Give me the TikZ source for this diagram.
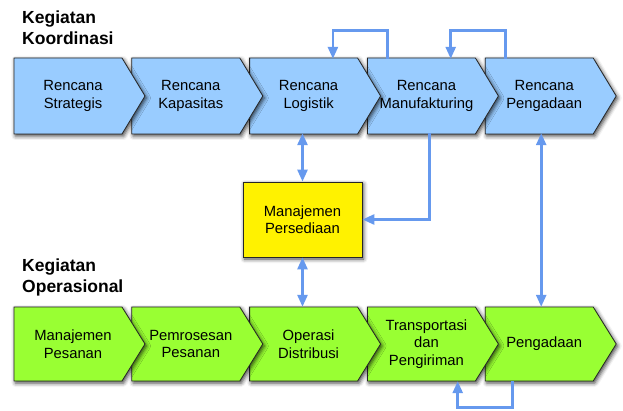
\documentclass[tikz,border=0pt]{standalone}
\usepackage{fontspec}
\setmainfont{Liberation Sans}
\usetikzlibrary{arrows.meta,shadows.blur}

\definecolor{planblue}{RGB}{153,204,255}
\definecolor{opgreen}{RGB}{153,255,51}
\definecolor{linkblue}{RGB}{102,153,238}

\tikzset{
  chev/.style={draw=black!85, line width=0.8pt,
    blur shadow={shadow xshift=1.5pt, shadow yshift=-2pt, shadow blur radius=4pt, shadow opacity=75}},
  boxtext/.style={inner sep=0pt, minimum width=119pt, minimum height=74pt, align=center,
    font=\fontsize{14.8}{17.5}\selectfont},
  link/.style={linkblue, line width=2.6pt, -{Triangle[width=10pt,length=12pt]}},
  both/.style={link, {Triangle[width=10pt,length=12pt]}-{Triangle[width=10pt,length=12pt]}},
  head/.style={anchor=north west, inner sep=0pt, align=left,
    font=\bfseries\fontsize{17.5}{21}\selectfont}
}

\begin{document}
\begin{tikzpicture}[x=1pt,y=1pt,yscale=-1,xscale=1]
\useasboundingbox (0,0) rectangle (623,411);

% chevrons, right to left so each tip lies on the next one
\foreach \i in {5,4,3,2,1} {
  \pgfmathsetmacro\xo{14+117.8*(\i-1)}
  \draw[chev, fill=planblue] (\xo,58) -- ++(108,0) -- ++(23,38) -- ++(-23,38) -- ++(-108,0) -- cycle;
  \draw[chev, fill=opgreen] (\xo,307) -- ++(108,0) -- ++(23,37) -- ++(-23,37) -- ++(-108,0) -- cycle;
}

% Text Node
\foreach \i/\txt in {1/{Rencana\\Strategis}, 2/{Rencana\\Kapasitas}, 3/{Rencana\\Logistik},
                    4/{Rencana\\Manufakturing}, 5/{Rencana\\Pengadaan}} {
  \pgfmathsetmacro\xo{14+117.8*(\i-1)}
  \node[boxtext] (k\i) at (\xo+59,96) {\txt};
}
\foreach \i/\txt in {1/{Manajemen\\Pesanan}, 2/{Pemrosesan\\Pesanan}, 3/{Operasi\\Distribusi},
                    4/{Transportasi\\dan\\Pengiriman}, 5/{Pengadaan}} {
  \pgfmathsetmacro\xo{14+117.8*(\i-1)}
  \node[boxtext] (o\i) at (\xo+59,344) {\txt};
}

\node[chev, fill=yellow, boxtext, minimum width=119pt, minimum height=75pt] (inv) at (302.5,219.5) {Manajemen\\Persediaan};

% Text Node
\node[head] (koord) at (22,11) {Kegiatan\\Koordinasi};
\node[head] (opr) at (22,259) {Kegiatan\\Operasional};

% links
\draw[both] (inv.north) -- (inv.north |- k3.south);
\draw[both] (inv.south) -- (inv.south |- o3.north);
\draw[link] ([xshift=3pt]k4.south) |- (inv.east);
\draw[both] ([xshift=-3pt]k5.south) -- ([xshift=-3pt]o5.north);
\draw[link] ([xshift=21pt]k4.north west) -- ++(0,-28) -| ([xshift=84pt]k3.north west);
\draw[link] ([xshift=21pt]k5.north west) -- ++(0,-28) -| ([xshift=84pt]k4.north west);
\draw[link] ([xshift=28pt]o5.south west) -- ++(0,26) -| ([xshift=91pt]o4.south west);
\end{tikzpicture}
\end{document}
